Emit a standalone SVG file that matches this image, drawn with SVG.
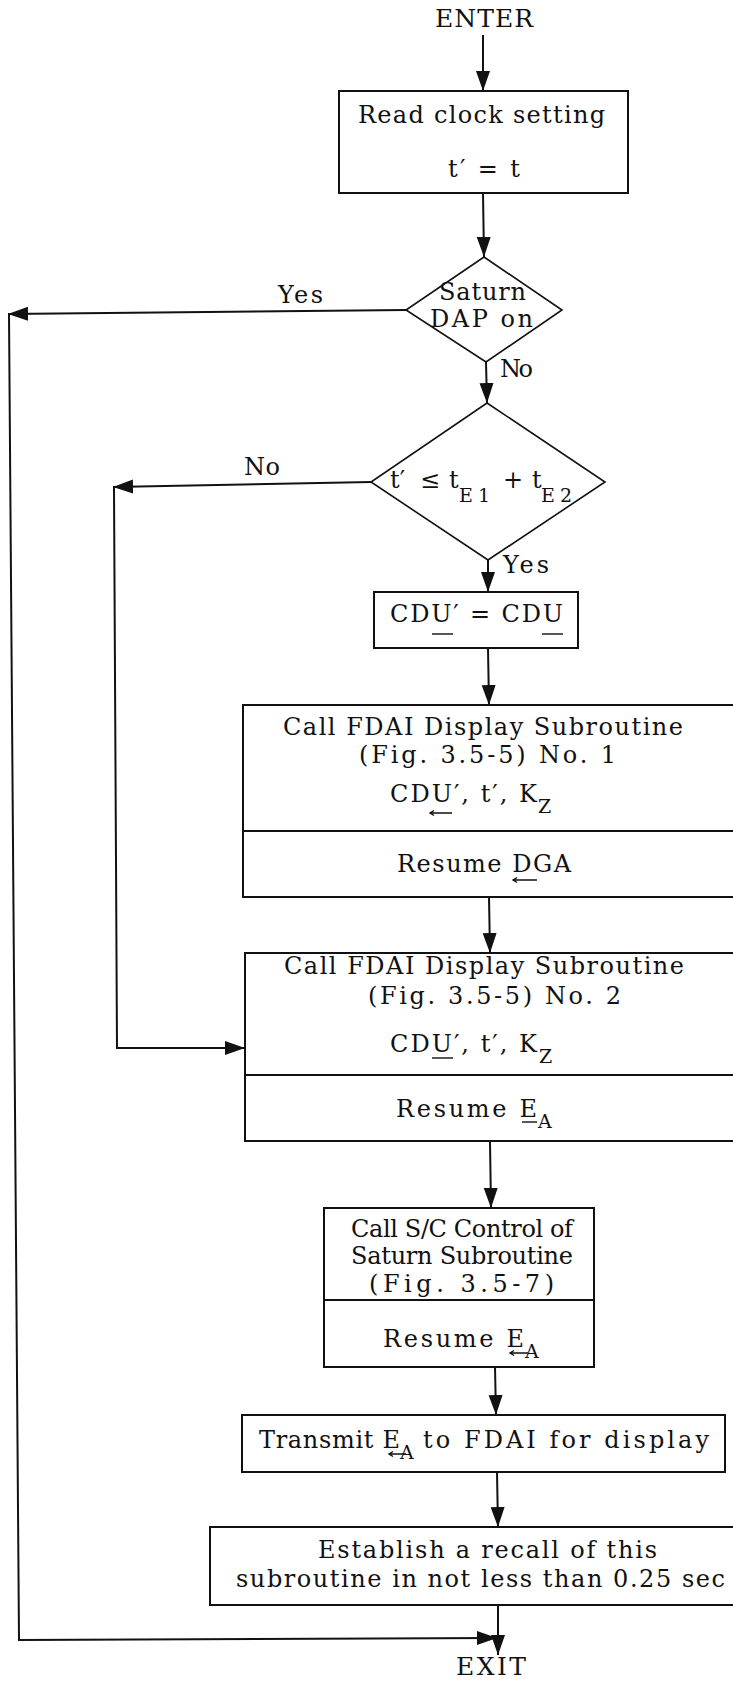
<svg xmlns="http://www.w3.org/2000/svg" width="733" height="1681" viewBox="0 0 733 1681">
<style>
.t{font-family:"DejaVu Serif","Liberation Serif",serif;font-size:24px;fill:#111}
.s{font-size:19px}
.b{fill:#fff;stroke:#111;stroke-width:2}
.d{fill:#fff;stroke:#111;stroke-width:1.6}
.ln{fill:none;stroke:#111;stroke-width:2}
.ul{fill:none;stroke:#111;stroke-width:1.4}
</style>
<defs>
<marker id="ah" markerUnits="userSpaceOnUse" markerWidth="22" markerHeight="16" refX="20" refY="7" orient="auto">
<path d="M0,0 L20,7 L0,14 z" fill="#111"/>
</marker>
</defs>
<rect width="733" height="1681" fill="#fff"/>

<g id="connectors">
<line class="ln" x1="483" y1="35" x2="483" y2="91" marker-end="url(#ah)"/>
<line class="ln" x1="483" y1="193" x2="484" y2="257" marker-end="url(#ah)"/>
<line class="ln" x1="486" y1="362" x2="487" y2="403" marker-end="url(#ah)"/>
<line class="ln" x1="406" y1="310" x2="8" y2="314" marker-end="url(#ah)"/>
<polyline class="ln" points="9,314 19,1640 497,1638" marker-end="url(#ah)"/>
<line class="ln" x1="371" y1="482" x2="113" y2="487" marker-end="url(#ah)"/>
<polyline class="ln" points="114,487 117,1048 245,1048" marker-end="url(#ah)"/>
<line class="ln" x1="488" y1="560" x2="488" y2="592" marker-end="url(#ah)"/>
<line class="ln" x1="488" y1="648" x2="489" y2="705" marker-end="url(#ah)"/>
<line class="ln" x1="489" y1="897" x2="490" y2="953" marker-end="url(#ah)"/>
<line class="ln" x1="490" y1="1141" x2="491" y2="1208" marker-end="url(#ah)"/>
<line class="ln" x1="495" y1="1367" x2="496" y2="1415" marker-end="url(#ah)"/>
<line class="ln" x1="497" y1="1472" x2="498" y2="1527" marker-end="url(#ah)"/>
<line class="ln" x1="498" y1="1605" x2="498" y2="1655" marker-end="url(#ah)"/>
</g>

<g id="labels">
<text class="t" x="278" y="303" textLength="45">Yes</text>
<text class="t" x="500" y="377" textLength="33">No</text>
<text class="t" x="244" y="475" textLength="36">No</text>
<text class="t" x="503" y="573" textLength="46">Yes</text>
</g>

<g id="enter">
<text class="t" x="435" y="27" textLength="98" style="font-size:25px">ENTER</text>
</g>

<g id="read-clock">
<rect class="b" x="339" y="91" width="289" height="102"/>
<text class="t" x="358" y="123" textLength="247">Read clock setting</text>
<text class="t" x="448" y="177" textLength="72">t′ = t</text>
</g>

<g id="saturn-dap">
<polygon class="d" points="484,257 562,310 486,362 406,310"/>
<text class="t" x="439" y="300" textLength="87">Saturn</text>
<text class="t" x="430" y="327" textLength="103">DAP on</text>
</g>

<g id="time-check">
<polygon class="d" points="487,403 605,482 488,560 371,482"/>
<text class="t" x="390" y="488">t′</text>
<text class="t" x="420" y="488">≤</text>
<text class="t" x="449" y="488">t</text>
<text class="t s" x="459" y="502" textLength="31">E1</text>
<text class="t" x="503" y="488">+</text>
<text class="t" x="532" y="488">t</text>
<text class="t s" x="541" y="502" textLength="31">E2</text>
</g>

<g id="cdu-copy">
<rect class="b" x="374" y="592" width="204" height="56"/>
<text class="t" x="390" y="622" textLength="173">CDU′ = CDU</text>
<line class="ul" x1="432" y1="634" x2="453" y2="634"/>
<line class="ul" x1="542" y1="634" x2="563" y2="634"/>
</g>

<g id="fdai-1">
<rect class="b" x="243" y="705" width="500" height="192"/>
<line class="ln" x1="243" y1="831" x2="743" y2="831"/>
<text class="t" x="283" y="735" textLength="400">Call FDAI Display Subroutine</text>
<text class="t" x="359" y="763" textLength="257">(Fig. 3.5-5) No. 1</text>
<text class="t" x="390" y="802" textLength="147">CDU′, t′, K</text>
<text class="t s" x="538" y="813">Z</text>
<path class="ul" d="M430,813 L452,813 M434,810.5 L430,813 L434,815.5"/>
<text class="t" x="397" y="872" textLength="174">Resume DGA</text>
<path class="ul" d="M513,880 L537,880 M517,877.5 L513,880 L517,882.5"/>
</g>

<g id="fdai-2">
<rect class="b" x="245" y="953" width="498" height="188"/>
<line class="ln" x1="245" y1="1075" x2="743" y2="1075"/>
<text class="t" x="284" y="974" textLength="400">Call FDAI Display Subroutine</text>
<text class="t" x="368" y="1004" textLength="253">(Fig. 3.5-5) No. 2</text>
<text class="t" x="390" y="1052" textLength="147">CDU′, t′, K</text>
<text class="t s" x="539" y="1063">Z</text>
<line class="ul" x1="432" y1="1058" x2="453" y2="1058"/>
<text class="t" x="396" y="1117" textLength="141">Resume E</text>
<text class="t s" x="538" y="1128">A</text>
<line class="ul" x1="522" y1="1122" x2="537" y2="1122"/>
</g>

<g id="saturn-control">
<rect class="b" x="324" y="1208" width="270" height="159"/>
<line class="ln" x1="324" y1="1300" x2="594" y2="1300"/>
<text class="t" x="351" y="1237" textLength="222">Call S/C Control of</text>
<text class="t" x="351" y="1264" textLength="222">Saturn Subroutine</text>
<text class="t" x="369" y="1292" textLength="185">(Fig. 3.5-7)</text>
<text class="t" x="383" y="1347" textLength="141">Resume E</text>
<text class="t s" x="525" y="1358">A</text>
<path class="ul" d="M510,1353 L528,1353 M514,1350.5 L510,1353 L514,1355.5"/>
</g>

<g id="transmit">
<rect class="b" x="242" y="1415" width="483" height="57"/>
<text class="t" x="259" y="1448" textLength="141">Transmit E</text>
<text class="t s" x="400" y="1459">A</text>
<text class="t" x="423" y="1448" textLength="286">to FDAI for display</text>
<path class="ul" d="M389,1454 L406,1454 M393,1451.5 L389,1454 L393,1456.5"/>
</g>

<g id="recall">
<rect class="b" x="210" y="1527" width="533" height="78"/>
<text class="t" x="318" y="1558" textLength="339">Establish a recall of this</text>
<text class="t" x="236" y="1587" textLength="489">subroutine in not less than 0.25 sec</text>
</g>

<g id="exit">
<text class="t" x="456" y="1675" textLength="70" style="font-size:25px">EXIT</text>
</g>
</svg>
